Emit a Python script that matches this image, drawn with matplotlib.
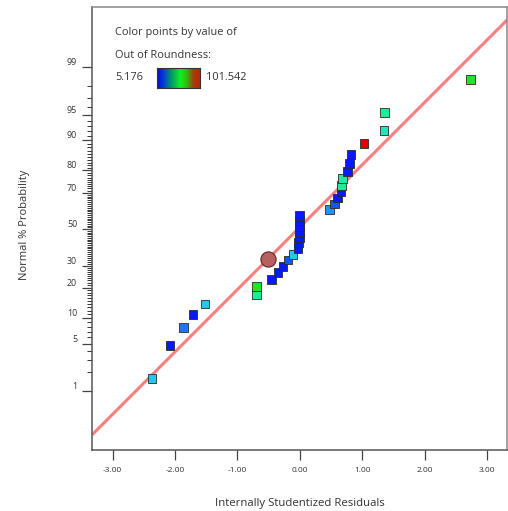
import numpy as np
import matplotlib
matplotlib.use("Agg")
import matplotlib.pyplot as plt
from matplotlib.colors import LinearSegmentedColormap, Normalize
from matplotlib.ticker import FixedLocator, FixedFormatter
from statistics import NormalDist

plt.rcParams['font.family'] = ['Open Sans', 'DejaVu Sans']

# ---------------- data ----------------
residuals = [-2.37, -2.08, -1.86, -1.71, -1.52, -0.69, -0.69, -0.45, -0.35, -0.27,
             -0.19, -0.11, -0.03, -0.02, -0.01, 0.00, 0.00, 0.00, 0.00, 0.48,
             0.56, 0.61, 0.66, 0.67, 0.68, 0.77, 0.79, 0.82, 1.03, 1.35,
             1.36, 2.74]
probabilities = [1.6, 4.7, 7.8, 10.9, 14.1, 17.2, 20.3, 23.4, 26.6, 29.7,
                 32.8, 35.9, 39.1, 42.2, 45.3, 48.4, 51.6, 54.7, 57.8, 60.9,
                 64.1, 67.2, 70.3, 73.4, 76.6, 79.7, 82.8, 85.9, 89.1, 92.2,
                 95.3, 98.4]
out_of_roundness = [28, 8, 18, 8, 28, 40, 52, 8, 8, 8,
                    14, 28, 8, 8, 8, 8, 8, 8, 8, 22,
                    14, 8, 8, 40, 38, 8, 8, 8, 101.5, 35,
                    40, 52]
color_min, color_max = 5.176, 101.542

fit_residual = [-3.33, 3.33]
fit_probability = [0.155, 99.87]
handle_residual = [-0.51]
handle_probability = [33.4]

prob_ticks = [1, 5, 10, 20, 30, 50, 70, 80, 90, 95, 99]
prob_minor = list(range(1, 100))
resid_ticks = [-3, -2, -1, 0, 1, 2, 3]
resid_labels = ['-3.00', '-2.00', '-1.00', '0.00', '1.00', '2.00', '3.00']

# ---------------- scale ----------------
_nd = NormalDist()
_ppf = np.vectorize(_nd.inv_cdf, otypes=[float])
_cdf = np.vectorize(_nd.cdf, otypes=[float])


def fwd(p):
    p = np.clip(np.asarray(p, float) / 100.0, 1e-9, 1 - 1e-9)
    return _ppf(p)


def inv(z):
    return _cdf(np.asarray(z, float)) * 100.0


cmap = LinearSegmentedColormap.from_list('roundness', [
    (0.0, '#0000ff'), (0.10, '#1a5cff'), (0.24, '#22ccee'), (0.31, '#22e6b8'),
    (0.37, '#20ee8c'), (0.50, '#18e818'), (0.75, '#7a8a10'), (1.0, '#e00000')])
legend_cmap = LinearSegmentedColormap.from_list('roundness_legend', [
    (0.0, '#0010c0'), (0.12, '#0030e0'), (0.35, '#00a060'), (0.55, '#10f020'),
    (0.68, '#30c010'), (0.85, '#a04010'), (1.0, '#c82000')])
norm = Normalize(color_min, color_max)

W, H = 508, 511
fig = plt.figure(figsize=(W / 100, H / 100), dpi=100)
ax = fig.add_axes([92 / W, 1 - 450 / H, (507 - 92) / W, (450 - 7) / H])
ax.set_yscale('function', functions=(fwd, inv))
ax.set_xlim(-3.33, 3.32)
ax.set_ylim(0.075, 99.929)

ax.plot(fit_residual, fit_probability, color='#f28080', lw=2.2, zorder=2,
        solid_capstyle='butt')
ax.scatter(handle_residual, handle_probability, s=120, marker='o',
           facecolor='#b86060', edgecolor='#5a2a2a', linewidth=0.8, zorder=4)
ax.scatter(residuals, probabilities, c=out_of_roundness, cmap=cmap, norm=norm,
           marker='s', s=40, edgecolor='#2a2a2a', linewidth=0.6, zorder=3)

ax.yaxis.set_major_locator(FixedLocator(prob_ticks))
ax.yaxis.set_major_formatter(FixedFormatter([str(t) for t in prob_ticks]))
ax.yaxis.set_minor_locator(FixedLocator(prob_minor))
ax.xaxis.set_major_locator(FixedLocator(resid_ticks))
ax.xaxis.set_major_formatter(FixedFormatter(resid_labels))
ax.xaxis.set_minor_locator(FixedLocator([]))

ax.tick_params(axis='y', which='major', length=7.2, width=0.9, color='#444',
               labelsize=6.4, labelcolor='#333', pad=3.5)
ax.tick_params(axis='y', which='minor', length=3.6, width=0.7, color='#333')
ax.tick_params(axis='x', which='major', length=7.2, width=0.9, color='#444',
               labelsize=6.0, labelcolor='#333', pad=5)
for lab in ax.get_yticklabels():
    lab.set_verticalalignment('bottom')

for name, s in ax.spines.items():
    s.set_color('#555' if name in ('left', 'bottom') else '#888')
    s.set_linewidth(1.1)

fig.text(300 / W, 1 - 503 / H, 'Internally Studentized Residuals', ha='center',
         va='center', fontsize=8.2, color='#333')
fig.text(25 / W, 1 - 225 / H, 'Normal % Probability', ha='center', va='center',
         rotation=90, fontsize=8.0, color='#333')

# colour legend
fig.text(115 / W, 1 - 33 / H, 'Color points by value of', ha='left', va='center',
         fontsize=7.9, color='#333')
fig.text(115 / W, 1 - 55 / H, 'Out of Roundness:', ha='left', va='center',
         fontsize=7.9, color='#333')
fig.text(115 / W, 1 - 78 / H, f'{color_min:.3f}', ha='left', va='center',
         fontsize=7.9, color='#333')
fig.text(206 / W, 1 - 78 / H, f'{color_max:.3f}', ha='left', va='center',
         fontsize=7.9, color='#333')
cax = fig.add_axes([157 / W, 1 - 88 / H, 43 / W, 20 / H])
grad = np.linspace(0, 1, 256)[None, :]
cax.imshow(grad, aspect='auto', cmap=legend_cmap, extent=[0, 1, 0, 1])
cax.set_xticks([])
cax.set_yticks([])
for s in cax.spines.values():
    s.set_color('#333')
    s.set_linewidth(0.8)

fig.savefig('out.png', dpi=100)
